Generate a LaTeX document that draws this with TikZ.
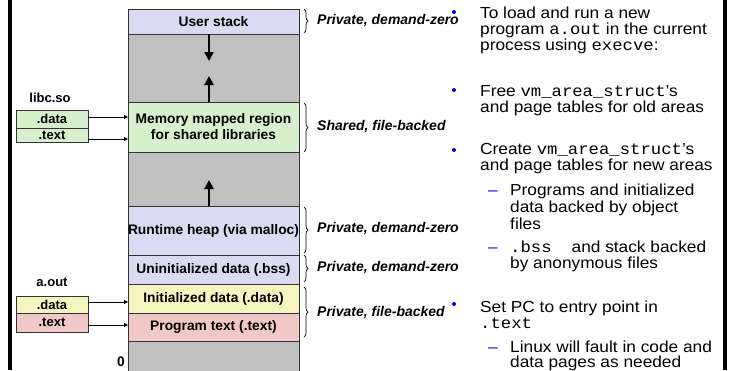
\documentclass[tikz,border=0pt]{standalone}
\usepackage{fontspec}
\setmainfont{Liberation Sans}
\newfontfamily\rfont{Liberation Sans}[FakeStretch=1.08]
\newfontfamily\rmono{Liberation Mono}[FakeStretch=1.08]
\usetikzlibrary{arrows.meta,decorations.pathreplacing}
\definecolor{lav}{RGB}{218,218,243}
\definecolor{regray}{RGB}{192,192,192}
\definecolor{libgreen}{RGB}{214,240,206}
\definecolor{datayel}{RGB}{245,245,192}
\definecolor{textpink}{RGB}{240,200,200}
\definecolor{bulblue}{RGB}{0,0,255}
\tikzset{
  seg/.style={draw=black!80, line width=0.7pt, inner sep=0pt, outer sep=0pt,
    minimum width=171pt, anchor=north west,
    font=\fontsize{13.8}{16}\selectfont\bfseries, align=center},
  secbox/.style={draw=black!80, line width=0.7pt, inner sep=0pt, outer sep=0pt,
    minimum width=72pt, anchor=north west, font=\fontsize{13}{14}\selectfont\bfseries},
  bigarrow/.style={line width=2.6pt, -{Triangle[length=9pt,width=9pt]}},
  thinarrow/.style={line width=0.8pt, -{Triangle[length=4pt,width=4pt]}},
  bracket/.style={decorate, decoration={brace, amplitude=4pt}, line width=0.7pt},
  kind/.style={anchor=west, inner sep=0pt, font=\fontsize{14}{16}\selectfont\bfseries\itshape},
  txtline/.style={anchor=base west, inner sep=0pt, font=\rfont\fontsize{16}{16}\selectfont},
  bdot/.style={circle, fill=bulblue, inner sep=0pt, minimum size=4pt},
  subdash/.style={anchor=base west, inner sep=0pt, text=bulblue, font=\rfont\fontsize{16}{16}\selectfont},
  framebar/.style={line width=4pt}
}
\begin{document}
\begin{tikzpicture}[x=1pt,y=-1pt]
\useasboundingbox (0,0) rectangle (731,370);
\clip (0,0) rectangle (731,370);

% frame bars
\coordinate (lbt) at (10,0);
\coordinate (lbb) at (10,370);
\coordinate (rbt) at (725,0);
\coordinate (rbb) at (725,370);
\draw[framebar] (lbt) -- (lbb);
\draw[framebar] (rbt) -- (rbb);

% address space column
\node[seg, fill=lav, minimum height=25pt] (ustack) at (128,9) {User stack};
\node[seg, fill=regray, minimum height=68pt] (gap1) at (128,34) {};
\node[seg, fill=libgreen, minimum height=50pt] (mmap) at (128,102) {Memory mapped region\\for shared libraries};
\node[seg, fill=regray, minimum height=54pt] (gap2) at (128,152) {};
\node[seg, fill=lav, minimum height=49pt] (heap) at (128,206) {Runtime heap (via malloc)};
\node[seg, fill=lav, minimum height=29pt] (bss) at (128,255) {Uninitialized data (.bss)};
\node[seg, fill=datayel, minimum height=29pt] (idata) at (128,284) {Initialized data (.data)};
\node[seg, fill=textpink, minimum height=28pt] (ptext) at (128,313) {Program text (.text)};
\node[seg, fill=regray, minimum height=40pt] (gap3) at (128,341) {};
\node[font=\fontsize{13.8}{14}\selectfont\bfseries, inner sep=0pt, anchor=base] (zero) at (121,366) {0};

% growth arrows
\coordinate (s1) at (209,34);
\coordinate (e1) at (209,61);
\coordinate (s2) at (209,102);
\coordinate (e2) at (209,76);
\coordinate (s3) at (209,206);
\coordinate (e3) at (209,180);
\draw[bigarrow] (s1) -- (e1);
\draw[bigarrow] (s2) -- (e2);
\draw[bigarrow] (s3) -- (e3);

% shared library sections
\node[font=\fontsize{13}{14}\selectfont\bfseries, inner sep=0pt] (libc) at (50,98) {libc.so};
\node[secbox, fill=libgreen, minimum height=18pt] (libdata) at (16,110) {.data};
\node[secbox, fill=libgreen, minimum height=14pt] (libtext) at (16,128) {.text};
\coordinate (ld1) at (88,117);
\coordinate (ld2) at (128,117);
\coordinate (lt1) at (88,139);
\coordinate (lt2) at (128,139);
\draw[thinarrow] (ld1) -- (ld2);
\draw[thinarrow] (lt1) -- (lt2);

% executable sections
\node[font=\fontsize{13}{14}\selectfont\bfseries, inner sep=0pt] (aout) at (52,282) {a.out};
\node[secbox, fill=datayel, minimum height=17pt] (adata) at (16,296) {.data};
\node[secbox, fill=textpink, minimum height=19pt] (atext) at (16,313) {.text};
\coordinate (ad1) at (88,302);
\coordinate (ad2) at (128,302);
\coordinate (at1) at (88,325);
\coordinate (at2) at (128,325);
\draw[thinarrow] (ad1) -- (ad2);
\draw[thinarrow] (at1) -- (at2);

% mapping kinds
\coordinate (b1t) at (304,9);   \coordinate (b1b) at (304,33);
\coordinate (b2t) at (304,103); \coordinate (b2b) at (304,152);
\coordinate (b3t) at (304,207); \coordinate (b3b) at (304,253);
\coordinate (b4t) at (304,255); \coordinate (b4b) at (304,282);
\coordinate (b5t) at (304,287); \coordinate (b5b) at (304,337);
\draw[bracket] (b1t) -- (b1b);
\draw[bracket] (b2t) -- (b2b);
\draw[bracket] (b3t) -- (b3b);
\draw[bracket] (b4t) -- (b4b);
\draw[bracket] (b5t) -- (b5b);
\node[kind] (k1) at (317,21) {Private, demand-zero};
\node[kind] (k2) at (317,127) {Shared, file-backed};
\node[kind] (k3) at (317,229) {Private, demand-zero};
\node[kind] (k4) at (317,268) {Private, demand-zero};
\node[kind] (k5) at (317,313) {Private, file-backed};

% steps of execve
\node[bdot] (p1) at (454,12) {};
\node[bdot] (p2) at (454,90) {};
\node[bdot] (p3) at (454,150) {};
\node[bdot] (p4) at (454,304) {};

\node[txtline] (l1) at (480,18) {To load and run a new};
\node[txtline] (l2) at (480,34) {program {\rmono a.out} in the current};
\node[txtline] (l3) at (480,50) {process using {\rmono execve}:};

\node[txtline] (l4) at (480,96) {Free {\rmono vm\_area\_struct}’s};
\node[txtline] (l5) at (480,112) {and page tables for old areas};

\node[txtline] (l6) at (480,154) {Create {\rmono vm\_area\_struct}’s};
\node[txtline] (l7) at (480,170) {and page tables for new areas};

\node[subdash] (m1) at (488,195) {–};
\node[txtline] (l8) at (510,195) {Programs and initialized};
\node[txtline] (l9) at (510,212) {data backed by object};
\node[txtline] (l10) at (510,229) {files};
\node[subdash] (m2) at (488,252) {–};
\node[txtline] (l11) at (510,252) {{\rmono .bss}\hspace{20pt}and stack backed};
\node[txtline] (l12) at (510,268) {by anonymous files};

\node[txtline] (l13) at (480,312) {Set PC to entry point in};
\node[txtline] (l14) at (480,328) {{\rmono .text}};
\node[subdash] (m3) at (488,352) {–};
\node[txtline] (l15) at (510,352) {Linux will fault in code and};
\node[txtline] (l16) at (510,367) {data pages as needed};
\end{tikzpicture}
\end{document}
